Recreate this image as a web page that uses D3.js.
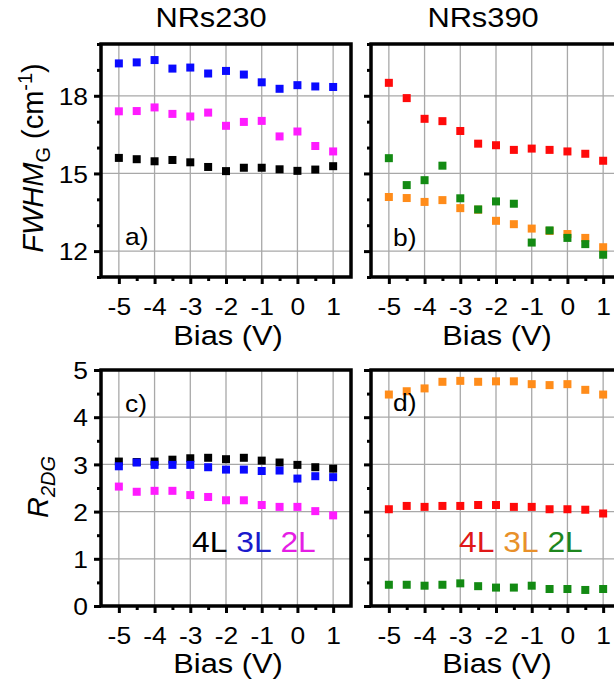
<!DOCTYPE html>
<html>
<head>
<meta charset="utf-8">
<script src="https://cdn.jsdelivr.net/npm/d3@7"></script>
<style>
body { margin: 0; background: #fff; }
text { font-family: "Liberation Sans", Arial, sans-serif; fill: #000; }
.grid line { stroke: #a8a8a8; stroke-width: 1.3; }
.axis path { display: none; }
.axis line { stroke: #000; stroke-width: 3; }
</style>
</head>
<body>
<div class="mainviz"></div>
<script>
var bias = [-5, -4.5, -4, -3.5, -3, -2.5, -2, -1.5, -1, -0.5, 0, 0.5, 1];
var xMajor = [-5, -4, -3, -2, -1, 0, 1];
var xMinor = [-4.5, -3.5, -2.5, -1.5, -0.5, 0.5];

// FWHM_G (cm-1), NRs230
var fw230_4L = [15.60, 15.55, 15.47, 15.52, 15.43, 15.25, 15.09, 15.22, 15.22, 15.16, 15.10, 15.15, 15.28];
var fw230_3L = [19.25, 19.29, 19.38, 19.05, 19.09, 18.86, 18.96, 18.82, 18.52, 18.27, 18.41, 18.36, 18.34];
var fw230_2L = [17.40, 17.41, 17.55, 17.30, 17.20, 17.35, 16.84, 16.99, 17.03, 16.43, 16.62, 16.06, 15.85];
// FWHM_G (cm-1), NRs390
var fw390_4L = [18.50, 17.91, 17.11, 17.02, 16.64, 16.15, 16.09, 15.91, 15.96, 15.91, 15.85, 15.76, 15.49];
var fw390_3L = [14.09, 14.05, 13.90, 13.97, 13.66, 13.60, 13.17, 13.04, 12.87, 12.78, 12.66, 12.51, 12.15];
var fw390_2L = [15.59, 14.55, 14.74, 15.30, 14.04, 13.61, 13.92, 13.83, 12.33, 12.80, 12.51, 12.27, 11.86];
// R_2DG, NRs230
var r230_4L = [3.06, 3.05, 3.06, 3.10, 3.13, 3.14, 3.11, 3.14, 3.08, 3.04, 2.99, 2.94, 2.91];
var r230_3L = [2.96, 3.04, 2.99, 2.99, 2.99, 2.94, 2.89, 2.89, 2.86, 2.87, 2.70, 2.75, 2.73];
var r230_2L = [2.53, 2.42, 2.44, 2.44, 2.35, 2.31, 2.24, 2.24, 2.14, 2.10, 2.10, 2.01, 1.92];
// R_2DG, NRs390
var r390_4L = [2.05, 2.12, 2.10, 2.12, 2.12, 2.14, 2.14, 2.10, 2.10, 2.05, 2.05, 2.04, 1.96];
var r390_3L = [4.48, 4.55, 4.61, 4.75, 4.77, 4.75, 4.76, 4.76, 4.70, 4.68, 4.70, 4.58, 4.48];
var r390_2L = [0.45, 0.45, 0.43, 0.45, 0.48, 0.42, 0.39, 0.39, 0.43, 0.36, 0.36, 0.34, 0.36];

var fwMajor = [12, 15, 18];
var fwMinor = [11, 13, 14, 16, 17, 19, 20];
var rMajor = [0, 1, 2, 3, 4, 5];
var rMinor = [0.5, 1.5, 2.5, 3.5, 4.5];

var titles = ["NRs230", "NRs390"];

var svg = d3.select(".mainviz").append("svg")
	.attr("width", 614)
	.attr("height", 687);

var sx = 1.1; // the picture's text is a bit wide

var panels = [
	{ left: 101, top: 44, bottom: 277, dom: [11, 20], major: fwMajor, minor: fwMinor, labels: true, tag: "a)",
	  series: [[fw230_4L, "#000000"], [fw230_2L, "#ff1cff"], [fw230_3L, "#0a0aff"]] },
	{ left: 371, top: 44, bottom: 277, dom: [11, 20], major: fwMajor, minor: fwMinor, labels: false, tag: "b)",
	  series: [[fw390_4L, "#ff0a0a"], [fw390_3L, "#ff8c1a"], [fw390_2L, "#138a13"]] },
	{ left: 101, top: 370, bottom: 606, dom: [0, 5], major: rMajor, minor: rMinor, labels: true, tag: "c)",
	  series: [[r230_4L, "#000000"], [r230_3L, "#0a0aff"], [r230_2L, "#ff1cff"]] },
	{ left: 371, top: 370, bottom: 606, dom: [0, 5], major: rMajor, minor: rMinor, labels: false, tag: "d)",
	  series: [[r390_4L, "#ff0a0a"], [r390_3L, "#ff8c1a"], [r390_2L, "#138a13"]] }
];
var tagPos = [[125, 245], [393, 246], [125, 412], [393, 411]];
var pw = 250;

panels.forEach(function(p, i) {
	var x = d3.scaleLinear().domain([-5.5, 1.5]).range([p.left, p.left + pw]);
	var y = d3.scaleLinear().domain(p.dom).range([p.bottom, p.top]);

	var g = svg.append("g");

	// grid
	var grid = g.append("g").attr("class", "grid");
	grid.selectAll("line.v").data(xMajor).enter().append("line")
		.attr("x1", function(d){ return x(d); }).attr("x2", function(d){ return x(d); })
		.attr("y1", p.top).attr("y2", p.bottom);
	grid.selectAll("line.h").data(p.major).enter().append("line")
		.attr("y1", function(d){ return y(d); }).attr("y2", function(d){ return y(d); })
		.attr("x1", p.left).attr("x2", p.left + pw);

	// markers
	p.series.forEach(function(s) {
		g.append("g").selectAll("rect")
			.data(s[0])
			.enter().append("rect")
			.attr("x", function(d, j){ return x(bias[j]) - 4; })
			.attr("y", function(d){ return y(d) - 4; })
			.attr("width", 8).attr("height", 8)
			.attr("fill", s[1]);
	});

	// axes
	var xAxis = d3.axisBottom(x).tickValues(xMajor).tickSize(7).tickFormat(d3.format("d"));
	var xg = g.append("g").attr("class", "axis")
		.attr("transform", "translate(0," + p.bottom + ")")
		.call(xAxis);
	xg.selectAll("text")
		.attr("y", 38).attr("dy", 0)
		.style("font-size", "24px")
		.attr("transform", "scale(" + sx + ",1)")
		.text(function(d){ return d < 0 ? "-" + Math.abs(d) : d; });
	g.append("g").attr("class", "axis")
		.attr("transform", "translate(0," + p.bottom + ")")
		.call(d3.axisBottom(x).tickValues(xMinor).tickSize(4).tickFormat(""));

	var yAxis = d3.axisLeft(y).tickValues(p.major).tickSize(7).tickFormat(d3.format("d"));
	var yg = g.append("g").attr("class", "axis")
		.attr("transform", "translate(" + p.left + ",0)")
		.call(yAxis);
	yg.selectAll("text")
		.style("font-size", "24px")
		.attr("dy", "0.36em")
		.attr("transform", "scale(" + sx + ",1)")
		.attr("x", -13 / sx);
	if (!p.labels) yg.selectAll("text").remove();
	g.append("g").attr("class", "axis")
		.attr("transform", "translate(" + p.left + ",0)")
		.call(d3.axisLeft(y).tickValues(p.minor).tickSize(4).tickFormat(""));

	// frame
	g.append("rect")
		.attr("x", p.left).attr("y", p.top)
		.attr("width", pw).attr("height", p.bottom - p.top)
		.attr("fill", "none").attr("stroke", "#000").attr("stroke-width", 3.5);

	// panel tag
	g.append("text")
		.attr("transform", "translate(" + tagPos[i][0] + "," + tagPos[i][1] + ") scale(" + sx + ",1)")
		.style("font-size", "24px")
		.text(p.tag);

	// x label
	g.append("text")
		.attr("transform", "translate(" + (i % 2 ? 497 : 228) + "," + (i < 2 ? 345 : 673) + ") scale(" + sx + ",1)")
		.attr("text-anchor", "middle")
		.style("font-size", "28px")
		.text("Bias (V)");
});

// column titles
titles.forEach(function(t, i) {
	svg.append("text")
		.attr("transform", "translate(" + (i ? 483 : 211) + ",27) scale(" + sx + ",1)")
		.attr("text-anchor", "middle")
		.style("font-size", "28px")
		.text(t);
});

// y labels
var yl1 = svg.append("text")
	.attr("transform", "translate(43,158) rotate(-90)")
	.attr("text-anchor", "middle")
	.style("font-size", "29px");
yl1.append("tspan").style("font-style", "italic").text("FWHM");
yl1.append("tspan").style("font-size", "20px").attr("dy", 7).text("G");
yl1.append("tspan").attr("dy", -7).text(" (cm");
yl1.append("tspan").style("font-size", "20px").attr("dy", -11).text("-1");
yl1.append("tspan").attr("dy", 11).text(")");

var yl2 = svg.append("text")
	.attr("transform", "translate(48,487) rotate(-90)")
	.attr("text-anchor", "middle")
	.style("font-size", "29px");
yl2.append("tspan").style("font-style", "italic").text("R");
yl2.append("tspan").style("font-size", "20px").style("font-style", "italic").attr("dy", 7).text("2DG");

// legends
var legends = [
	{ x: 192, items: [["4L", "#000000"], ["3L", "#1a1acc"], ["2L", "#e51ee5"]] },
	{ x: 459, items: [["4L", "#e01818"], ["3L", "#e8902a"], ["2L", "#1d861d"]] }
];
legends.forEach(function(l) {
	var t = svg.append("text")
		.attr("x", l.x).attr("y", 552)
		.attr("transform", "translate(" + (-l.x * 0.06) + ",0) scale(1.06,1)")
		.style("font-size", "30px");
	l.items.forEach(function(it, k) {
		t.append("tspan").style("fill", it[1]).text((k ? " " : "") + it[0]);
	});
});
</script>
</body>
</html>
